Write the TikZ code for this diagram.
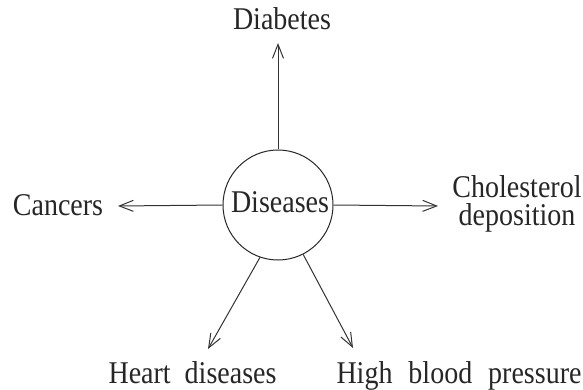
\documentclass[tikz,border=0pt]{standalone}
\usepackage{fontspec}
\setmainfont{Liberation Serif}
\usetikzlibrary{arrows.meta}
\newcommand{\stretchtxt}[1]{\scalebox{1}[1.13]{#1}}
\begin{document}
\begin{tikzpicture}[x=1pt,y=-1pt,
  lbl/.style={font=\fontsize{28}{28}\selectfont, inner sep=0pt, anchor=base, text=black!85},
  conn/.style={line width=1pt, draw=black!80, -{Straight Barb[length=14pt,width=11pt,line width=1pt]}},
  hub/.style={circle, draw=black!85, line width=1pt, minimum size=110pt, inner sep=0pt}]
\useasboundingbox (0,0) rectangle (583,390);
\node[hub] (c) at (278,205) {};
\node[lbl] (ct) at (280,212) {\stretchtxt{Diseases}};
\node[lbl] (dia) at (282,30) {\stretchtxt{Diabetes}};
\node[lbl] (can) at (58,215) {\stretchtxt{Cancers}};
\node[lbl, anchor=north, align=center] (cho) at (517,175.4) {\stretchtxt{Cholesterol}\\\stretchtxt{deposition}};
\node[lbl] (hea) at (192.5,383) {\stretchtxt{Heart\hspace{0.5em}diseases}};
\node[lbl] (hig) at (459,383) {\stretchtxt{High\hspace{0.57em}blood\hspace{0.57em}pressure}};
\coordinate (tdia) at (278,43);
\coordinate (tcan) at (118,206);
\coordinate (tcho) at (438,206);
\coordinate (thea) at (208,349);
\coordinate (thig) at (353,348);
\draw[conn] (c.north) -- (tdia);
\draw[conn] (c.west) -- (tcan);
\draw[conn] (c.east) -- (tcho);
\draw[conn] (c.-109) -- (thea);
\draw[conn] (c.-63) -- (thig);
\end{tikzpicture}
\end{document}
